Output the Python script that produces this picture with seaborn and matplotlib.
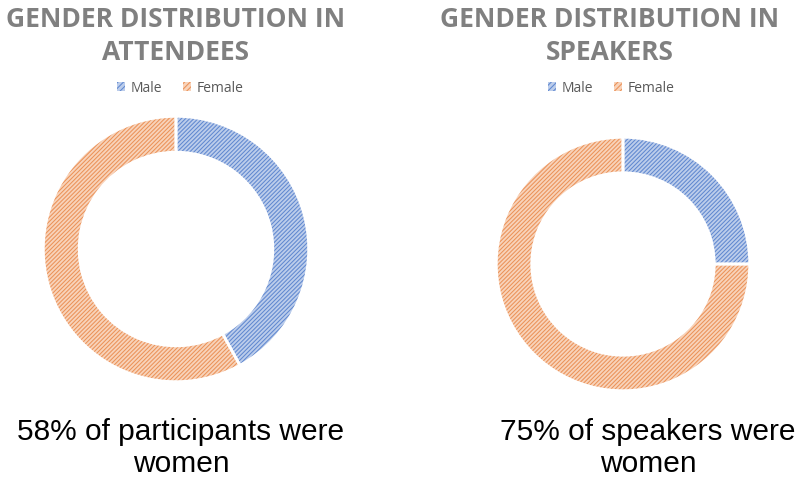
import matplotlib
matplotlib.use("Agg")
import matplotlib.pyplot as plt
import matplotlib.patches as mpatches
import seaborn as sns

# data
labels = ["Male", "Female"]
attendees = [42, 58]
speakers = [25, 75]
titles = ["GENDER DISTRIBUTION IN\nATTENDEES", "GENDER DISTRIBUTION IN\nSPEAKERS"]
captions = ["58% of participants were\nwomen", "75% of speakers were\nwomen"]

face_cols = ["#bccdeb", "#f8d3ba"]
hatch_cols = ["#6088d0", "#eb9258"]
HATCH = "////////"

sns.set_theme(style="white")
plt.rcParams["hatch.linewidth"] = 0.75

W, H = 801, 483
fig = plt.figure(figsize=(W / 100, H / 100), dpi=100)


def px_axes(cx, cy, r):
    # axes box in figure fractions from pixel center / radius
    return fig.add_axes([(cx - r) / W, 1 - (cy + r) / H, 2 * r / W, 2 * r / H])


def donut(ax, vals, width):
    # hatched layer
    w1, _ = ax.pie(vals, startangle=90, counterclock=False, radius=1,
                   colors=face_cols, wedgeprops=dict(width=width, linewidth=0))
    for w, hc in zip(w1, hatch_cols):
        w.set_hatch(HATCH)
        w.set_edgecolor(hc)
        w.set_linewidth(0)
    # white borders on top
    ax.pie(vals, startangle=90, counterclock=False, radius=1,
           colors=["none", "none"],
           wedgeprops=dict(width=width, edgecolor="white", linewidth=2))
    ax.set_xlim(-1.01, 1.01)
    ax.set_ylim(-1.01, 1.01)
    ax.set_aspect("equal")
    ax.axis("off")


ax1 = px_axes(176, 249, 134)
donut(ax1, attendees, 0.27)
ax2 = px_axes(623, 264, 128)
donut(ax2, speakers, 0.28)

title_font = dict(family="Open Sans", weight="bold", size=19, color="#808080",
                  ha="center", va="center", linespacing=1.3)
fig.text(176 / W, 1 - 36 / H, titles[0], **title_font)
fig.text(610 / W, 1 - 36 / H, titles[1], **title_font)

# legends
for cx, cy in [(180, 88), (611, 88)]:
    handles = [mpatches.Patch(facecolor=f, edgecolor=h, hatch="//////", linewidth=0)
               for f, h in zip(face_cols, hatch_cols)]
    fig.legend(handles, labels, loc="center", bbox_to_anchor=(cx / W, 1 - cy / H),
               ncol=2, frameon=False, handlelength=0.6, handleheight=0.6,
               handletextpad=0.4, columnspacing=1.5, labelcolor="#595959",
               prop=dict(family="Open Sans", size=10))

cap_font = dict(family="Liberation Sans", size=21.5, color="black",
                ha="center", va="center", linespacing=1.15)
fig.text(181 / W, 1 - 448 / H, captions[0], **cap_font)
fig.text(648 / W, 1 - 448 / H, captions[1], **cap_font)

fig.savefig("out.png", dpi=100, facecolor="white")
